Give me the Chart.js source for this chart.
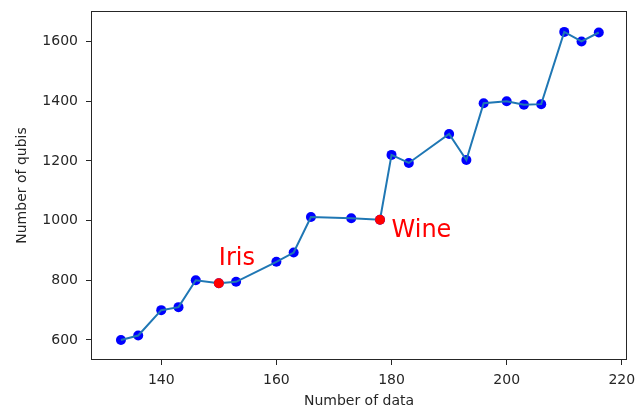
<!DOCTYPE html>
<html>
<head>
<meta charset="utf-8">
<script src="https://cdn.jsdelivr.net/npm/chart.js@4"></script>
<style>
  body { margin: 0; background: #fff; }
</style>
</head>
<body>
<canvas id="canvas" width="636" height="410"></canvas>
<script>
// data
var xValues = [133, 136, 140, 143, 146, 150, 153, 160, 163, 166, 173, 178, 180, 183, 190, 193, 196, 200, 203, 206, 210, 213, 216];
var yValues = [600, 615, 700, 710, 800, 790, 795, 862, 893, 1012, 1008, 1003, 1220, 1193, 1290, 1203, 1393, 1400, 1388, 1390, 1632, 1600, 1630];
var redX = [150, 178];
var redY = [790, 1003];
var noteLabels = ["Iris", "Wine"];
var noteX = [150, 180];
var noteY = [850, 945];
var xTicks = [140, 160, 180, 200, 220];
var yTicks = [600, 800, 1000, 1200, 1400, 1600];

let lineBlue = "#1f77b4";
let dark = "#262626";
let font = "DejaVu Sans";

function pts(xs, ys) {
  return xs.map(function (x, i) { return { x: x, y: ys[i] }; });
}

// frame round the plot + the red text notes
const extras = {
  id: "extras",
  afterDatasetsDraw(chart) {
    const c = chart.ctx;
    const a = chart.chartArea;
    c.save();
    c.strokeStyle = dark;
    c.lineWidth = 1;
    c.strokeRect(a.left + 0.5, a.top + 0.5, a.right - a.left - 1, a.bottom - a.top - 1);
    c.fillStyle = "#ff0000";
    c.font = "24px '" + font + "'";
    c.textBaseline = "alphabetic";
    c.textAlign = "left";
    for (let i = 0; i < noteLabels.length; i++) {
      c.fillText(noteLabels[i], chart.scales.x.getPixelForValue(noteX[i]), chart.scales.y.getPixelForValue(noteY[i]));
    }
    c.restore();
  },
};

const ctx = document.getElementById("canvas").getContext("2d");
const myChart = new Chart(ctx, {
  type: "scatter",
  data: {
    datasets: [
      {
        data: pts(redX, redY),
        backgroundColor: "#ff0000",
        pointRadius: 5,
        pointBorderWidth: 0,
        order: 0,
      },
      {
        type: "line",
        data: pts(xValues, yValues),
        borderColor: lineBlue,
        borderWidth: 2,
        pointRadius: 0,
        showLine: true,
        tension: 0,
        order: 1,
      },
      {
        data: pts(xValues, yValues),
        backgroundColor: "#0000ff",
        pointRadius: 5,
        pointBorderWidth: 0,
        order: 2,
      },
    ],
  },
  options: {
    responsive: false,
    animation: false,
    events: [],
    layout: { padding: { left: 0, top: 11, right: 9, bottom: 0 } },
    plugins: { legend: { display: false }, tooltip: { enabled: false } },
    scales: {
      x: {
        type: "linear",
        min: 127.8,
        max: 220.9,
        afterBuildTicks: function (s) { s.ticks = xTicks.map(function (v) { return { value: v }; }); },
        afterFit: function (s) { s.height = 50; s.paddingLeft = 0; s.paddingRight = 0; },
        grid: { drawOnChartArea: false, tickLength: 5, tickColor: dark },
        border: { display: false },
        ticks: { color: dark, font: { family: font, size: 14 }, padding: 7, maxRotation: 0 },
        title: { display: true, text: "Number of data", color: dark, font: { family: font, size: 14 }, padding: { top: 2, bottom: 0 } },
      },
      y: {
        type: "linear",
        min: 533,
        max: 1702,
        afterBuildTicks: function (s) { s.ticks = yTicks.map(function (v) { return { value: v }; }); },
        afterFit: function (s) { s.width = 91; s.paddingTop = 0; s.paddingBottom = 0; },
        grid: { drawOnChartArea: false, tickLength: 5, tickColor: dark },
        border: { display: false },
        ticks: { color: dark, font: { family: font, size: 14 }, padding: 8, callback: function (v) { return String(v); } },
        title: { display: true, text: "Number of qubis", color: dark, font: { family: font, size: 14 }, padding: { top: 14, bottom: 4 } },
      },
    },
  },
  plugins: [extras],
});
</script>
</body>
</html>
